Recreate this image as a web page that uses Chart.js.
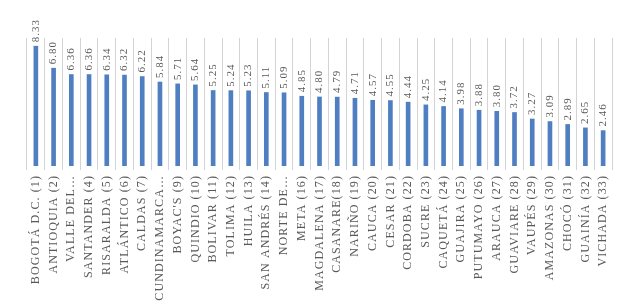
<!DOCTYPE html>
<html lang="es">
<head>
  <meta charset="UTF-8" />
  <title>Departamentos</title>
  <script src="https://cdn.jsdelivr.net/npm/chart.js"></script>
  <style>
    body { margin: 0; background: #fff; }
    #wrap { width: 624px; height: 305px; }
  </style>
</head>
<body>
  <div id="wrap">
    <canvas id="deptChart" width="624" height="305"></canvas>
  </div>

  <script>
    const departamentos = [
      "BOGOTÁ D.C. (1)", "ANTIOQUIA (2)", "VALLE DEL…", "SANTANDER (4)", "RISARALDA (5)",
      "ATLÁNTICO (6)", "CALDAS (7)", "CUNDINAMARCA…", "BOYAC'S (9)", "QUINDIO (10)",
      "BOLIVAR (11)", "TOLIMA (12)", "HUILA (13)", "SAN ANDRÉS (14)", "NORTE DE…",
      "META (16)", "MAGDALENA (17)", "CASANARE(18)", "NARIÑO (19)", "CAUCA (20)",
      "CESAR (21)", "CORDOBA (22)", "SUCRE (23)", "CAQUETÁ (24)", "GUAJIRA (25)",
      "PUTUMAYO (26)", "ARAUCA (27)", "GUAVIARE (28)", "VAUPÉS (29)", "AMAZONAS (30)",
      "CHOCÓ (31)", "GUAINÍA (32)", "VICHADA (33)"
    ];

    const valores = [
      8.33, 6.80, 6.36, 6.36, 6.34, 6.32, 6.22, 5.84, 5.71, 5.64,
      5.25, 5.24, 5.23, 5.11, 5.09, 4.85, 4.80, 4.79, 4.71, 4.57,
      4.55, 4.44, 4.25, 4.14, 3.98, 3.88, 3.80, 3.72, 3.27, 3.09,
      2.89, 2.65, 2.46
    ];

    // letter spacing for the tick labels (canvas property, chrome)
    const spacingPlugin = {
      id: "spacing",
      beforeDraw(chart) {
        chart.ctx.letterSpacing = "1.1px";
      }
    };

    // value labels above each bar, rotated
    const valueLabels = {
      id: "valueLabels",
      afterDatasetsDraw(chart) {
        const ctx = chart.ctx;
        const meta = chart.getDatasetMeta(0);
        ctx.save();
        ctx.font = "11px 'Liberation Serif'";
        ctx.fillStyle = "#595959";
        ctx.letterSpacing = "1px";
        ctx.textAlign = "left";
        ctx.textBaseline = "middle";
        meta.data.forEach((bar, i) => {
          ctx.save();
          ctx.translate(bar.x, bar.y - 4);
          ctx.rotate(-Math.PI / 2);
          ctx.fillText(valores[i].toFixed(2), 0, 0);
          ctx.restore();
        });
        ctx.restore();
      }
    };

    const ctx = document.getElementById("deptChart").getContext("2d");
    new Chart(ctx, {
      type: "bar",
      data: {
        labels: departamentos,
        datasets: [{
          data: valores,
          backgroundColor: "#4f7fc0",
          barThickness: 4
        }]
      },
      options: {
        responsive: false,
        animation: false,
        layout: { padding: { top: 38, left: 27, right: 12, bottom: 0 } },
        plugins: {
          legend: { display: false },
          tooltip: { enabled: false }
        },
        scales: {
          x: {
            grid: { color: "#d4d4d4", lineWidth: 1, tickLength: 4, offset: true },
            border: { display: false },
            ticks: {
              autoSkip: false,
              minRotation: 90,
              maxRotation: 90,
              padding: 5,
              color: "#595959",
              font: { family: "'Liberation Serif'", size: 12 }
            },
            afterFit(scale) { scale.height = 139; }
          },
          y: {
            display: false,
            min: 0,
            max: 8.9
          }
        }
      },
      plugins: [spacingPlugin, valueLabels]
    });
  </script>
</body>
</html>
